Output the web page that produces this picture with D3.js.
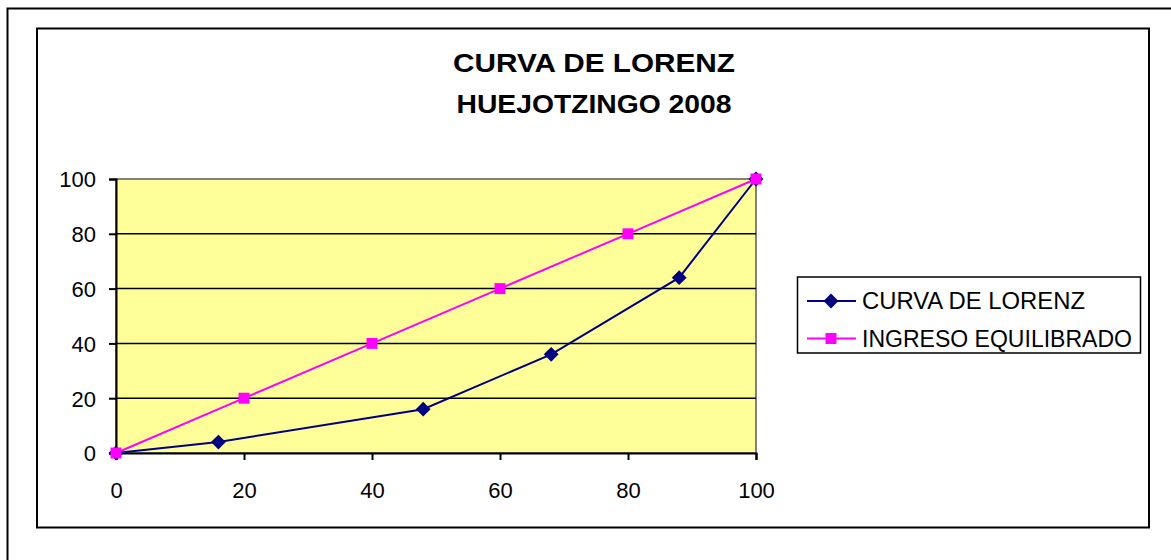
<!DOCTYPE html>
<meta charset="utf-8">
<style>
    body {
        margin: 0;
        background: #fff;
    }
    text {
        font-family: "Liberation Sans", Arial, sans-serif;
        fill: #000;
    }
</style>
<body>
<script src="https://d3js.org/d3.v7.min.js"></script>
<script>
    // data
    var titleLines = ["CURVA DE LORENZ", "HUEJOTZINGO 2008"];
    var seriesNames = ["CURVA DE LORENZ", "INGRESO EQUILIBRADO"];
    var lorenzX = [0, 16, 48, 68, 88, 100];
    var lorenzY = [0, 4, 16, 36, 64, 100];
    var equalX = [0, 20, 40, 60, 80, 100];
    var equalY = [0, 20, 40, 60, 80, 100];
    var xTicks = [0, 20, 40, 60, 80, 100];
    var yTicks = [0, 20, 40, 60, 80, 100];

    var W = 1171, H = 560;
    var plot = {left: 116, top: 179, right: 756, bottom: 453};

    var svg = d3.select("body").append("svg")
        .attr("width", W)
        .attr("height", H);

    // outer frame (only top/left visible inside the picture)
    svg.append("rect")
        .attr("x", 7.5).attr("y", 8.5)
        .attr("width", W + 20).attr("height", H + 20)
        .attr("fill", "none")
        .attr("stroke", "#000")
        .attr("stroke-width", 2);

    // chart area border
    svg.append("rect")
        .attr("x", 37).attr("y", 28.5)
        .attr("width", 1112).attr("height", 499)
        .attr("fill", "#fff")
        .attr("stroke", "#000")
        .attr("stroke-width", 2);

    // title
    var title = svg.append("g");
    title.selectAll("text")
        .data(titleLines)
        .enter().append("text")
        .attr("x", 594)
        .attr("y", function(d, i) { return 72 + i * 41; })
        .attr("text-anchor", "middle")
        .style("font-size", "26px")
        .style("font-weight", "bold")
        .attr("textLength", function(d, i) { return i === 0 ? 282 : 275; })
        .attr("lengthAdjust", "spacingAndGlyphs")
        .text(function(d) { return d; });

    var x = d3.scaleLinear().domain([0, 100]).range([plot.left, plot.right]);
    var y = d3.scaleLinear().domain([0, 100]).range([plot.bottom, plot.top]);

    // plot area
    svg.append("rect")
        .attr("x", plot.left).attr("y", plot.top)
        .attr("width", plot.right - plot.left)
        .attr("height", plot.bottom - plot.top)
        .attr("fill", "#ffff99")
        .attr("stroke", "#808080")
        .attr("stroke-width", 2);

    // gridlines
    svg.append("g").selectAll("line")
        .data(yTicks.filter(function(d) { return d > 0 && d < 100; }))
        .enter().append("line")
        .attr("x1", plot.left).attr("x2", plot.right)
        .attr("y1", function(d) { return y(d); })
        .attr("y2", function(d) { return y(d); })
        .attr("stroke", "#000")
        .attr("stroke-width", 1.5);

    // axes
    var yAxis = svg.append("g")
        .attr("transform", "translate(" + plot.left + ",0)")
        .call(d3.axisLeft(y).tickValues(yTicks).tickSize(7).tickPadding(13));
    var xAxis = svg.append("g")
        .attr("transform", "translate(0," + plot.bottom + ")")
        .call(d3.axisBottom(x).tickValues(xTicks).tickSize(7).tickPadding(22));

    [xAxis, yAxis].forEach(function(a) {
        a.select(".domain").attr("stroke", "#000").attr("stroke-width", 2);
        a.selectAll(".tick line").attr("stroke", "#000").attr("stroke-width", 2);
        a.selectAll(".tick text")
            .style("font-family", "'Liberation Sans', Arial, sans-serif")
            .style("font-size", "22px")
            .attr("fill", "#000");
    });
    yAxis.selectAll(".tick text").attr("dy", "0.36em");

    var line = d3.line()
        .x(function(d) { return x(d[0]); })
        .y(function(d) { return y(d[1]); });

    var lorenz = d3.zip(lorenzX, lorenzY);
    var equal = d3.zip(equalX, equalY);

    svg.append("path")
        .datum(equal)
        .attr("d", line)
        .attr("fill", "none")
        .attr("stroke", "#ff00ff")
        .attr("stroke-width", 2);

    svg.append("path")
        .datum(lorenz)
        .attr("d", line)
        .attr("fill", "none")
        .attr("stroke", "#000080")
        .attr("stroke-width", 2);

    var diamond = d3.symbol().type(d3.symbolDiamond2).size(140);
    var square = d3.symbol().type(d3.symbolSquare).size(120);

    svg.append("g").selectAll("path")
        .data(lorenz)
        .enter().append("path")
        .attr("d", diamond)
        .attr("transform", function(d) { return "translate(" + x(d[0]) + "," + y(d[1]) + ")"; })
        .attr("fill", "#000080");

    svg.append("g").selectAll("path")
        .data(equal)
        .enter().append("path")
        .attr("d", square)
        .attr("transform", function(d) { return "translate(" + x(d[0]) + "," + y(d[1]) + ")"; })
        .attr("fill", "#ff00ff");

    // legend
    var legend = svg.append("g");
    legend.append("rect")
        .attr("x", 797.5).attr("y", 277)
        .attr("width", 343).attr("height", 76)
        .attr("fill", "#fff")
        .attr("stroke", "#000")
        .attr("stroke-width", 1.5);

    var legendColor = ["#000080", "#ff00ff"];
    var legendSym = [diamond, square];
    var rows = legend.selectAll(".row")
        .data(seriesNames)
        .enter().append("g")
        .attr("class", "row")
        .attr("transform", function(d, i) { return "translate(0," + (301 + i * 37.5) + ")"; });

    rows.append("line")
        .attr("x1", 807).attr("x2", 856)
        .attr("stroke", function(d, i) { return legendColor[i]; })
        .attr("stroke-width", 2);
    rows.append("path")
        .attr("d", function(d, i) { return legendSym[i](); })
        .attr("transform", "translate(831,0)")
        .attr("fill", function(d, i) { return legendColor[i]; });
    rows.append("text")
        .attr("x", 862)
        .attr("dy", "0.36em")
        .style("font-size", "23px")
        .attr("textLength", function(d, i) { return i === 0 ? 223 : 270; })
        .attr("lengthAdjust", "spacingAndGlyphs")
        .text(function(d) { return d; });
</script>
</body>
